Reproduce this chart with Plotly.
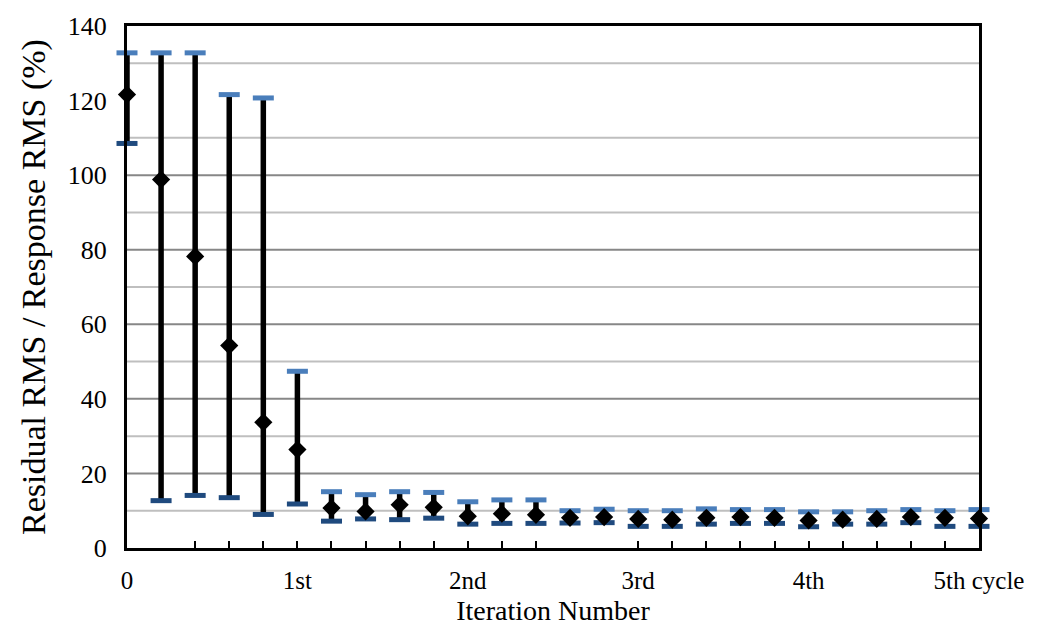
import plotly.graph_objects as go

# Iteration index (0 .. 5th cycle in steps of 0.2)
iteration = [0.0, 0.2, 0.4, 0.6, 0.8, 1.0, 1.2, 1.4, 1.6, 1.8, 2.0, 2.2, 2.4,
             2.6, 2.8, 3.0, 3.2, 3.4, 3.6, 3.8, 4.0, 4.2, 4.4, 4.6, 4.8, 5.0]

# Residual RMS / Response RMS (%): mean, max and min per iteration
mean_pct = [121.6, 98.8, 78.2, 54.3, 33.7, 26.4, 10.7, 9.8, 11.6, 10.9, 8.5, 9.2, 8.9,
            8.1, 8.3, 7.8, 7.6, 8.1, 8.3, 8.1, 7.4, 7.6, 7.8, 8.3, 8.1, 7.9]
max_pct = [132.8, 132.8, 132.8, 121.6, 120.7, 47.4, 15.1, 14.3, 15.1, 14.9, 12.4, 12.9, 12.9,
           10.0, 10.4, 10.0, 10.0, 10.5, 10.3, 10.3, 9.7, 9.7, 10.0, 10.3, 10.0, 10.3]
min_pct = [108.5, 12.7, 14.1, 13.5, 9.0, 11.8, 7.2, 7.8, 7.6, 8.0, 6.4, 6.6, 6.6,
           6.7, 6.8, 5.8, 5.8, 6.4, 6.6, 6.6, 5.7, 6.4, 6.4, 6.8, 5.8, 5.8]

cycle_ticks = [0, 1, 2, 3, 4, 5]
cycle_labels = ["0", "1st", "2nd", "3rd", "4th", "5th cycle"]
minor_ticks = [0.4, 0.6, 0.8, 1.2, 1.4, 1.6, 1.8, 2.2, 2.4,
               3.2, 3.4, 3.6, 3.8, 4.2, 4.4, 4.6, 4.8]
y_ticks = [0, 20, 40, 60, 80, 100, 120, 140]
grid_major = [20, 40, 60, 80, 100]
grid_minor = [10, 30, 50, 70, 90, 110, 130]

FONT = "Liberation Serif, Times New Roman, serif"

fig = go.Figure()

# vertical range bars (min..max)
fig.add_trace(go.Scatter(
    x=iteration, y=mean_pct, mode="markers",
    marker=dict(size=1, color="rgba(0,0,0,0)"),
    error_y=dict(type="data", symmetric=False,
                 array=[hi - m for hi, m in zip(max_pct, mean_pct)],
                 arrayminus=[m - lo for lo, m in zip(min_pct, mean_pct)],
                 color="black", thickness=5.5, width=0),
    cliponaxis=False, showlegend=False, hoverinfo="skip"))

# caps: max (light blue) and min (dark blue)
fig.add_trace(go.Scatter(
    x=iteration, y=max_pct, mode="markers",
    marker=dict(symbol="line-ew", size=15, line=dict(width=5, color="#4A7EBB")),
    cliponaxis=False, showlegend=False))
fig.add_trace(go.Scatter(
    x=iteration, y=min_pct, mode="markers",
    marker=dict(symbol="line-ew", size=15, line=dict(width=5, color="#1F4A7E")),
    cliponaxis=False, showlegend=False))

# mean values
fig.add_trace(go.Scatter(
    x=iteration, y=mean_pct, mode="markers",
    marker=dict(symbol="diamond", size=14, color="black"),
    cliponaxis=False, showlegend=False))

shapes = []
for v in grid_minor:
    shapes.append(dict(type="line", xref="x", yref="y", x0=0, x1=5, y0=v, y1=v,
                       line=dict(color="#BFBFBF", width=2), layer="below"))
for v in grid_major:
    shapes.append(dict(type="line", xref="x", yref="y", x0=0, x1=5, y0=v, y1=v,
                       line=dict(color="#878787", width=2), layer="below"))

fig.update_layout(
    width=1039, height=634,
    margin=dict(l=127, r=60, t=21, b=86),
    paper_bgcolor="white", plot_bgcolor="white",
    font=dict(family=FONT, color="black", size=24),
    shapes=shapes,
    xaxis=dict(
        range=[0, 5], tickvals=cycle_ticks, ticktext=cycle_labels,
        ticks="inside", ticklen=7, tickwidth=2, tickcolor="black",
        minor=dict(tickvals=minor_ticks, ticks="inside", ticklen=7,
                   tickwidth=2, tickcolor="black", showgrid=False),
        showgrid=False, zeroline=False,
        showline=True, linecolor="black", linewidth=3, mirror=True,
        tickfont=dict(family=FONT, size=25), ticklabelstandoff=8,
        title=dict(text="Iteration Number", font=dict(family=FONT, size=28), standoff=8),
    ),
    yaxis=dict(
        range=[0, 140], tickvals=y_ticks, ticks="",
        showgrid=False, zeroline=False,
        showline=True, linecolor="black", linewidth=3, mirror=True,
        tickfont=dict(family=FONT, size=26), ticklabelstandoff=12,
        title=dict(text="Residual RMS / Response RMS (%)",
                   font=dict(family=FONT, size=34), standoff=12),
    ),
)

fig.write_html("out.html")
